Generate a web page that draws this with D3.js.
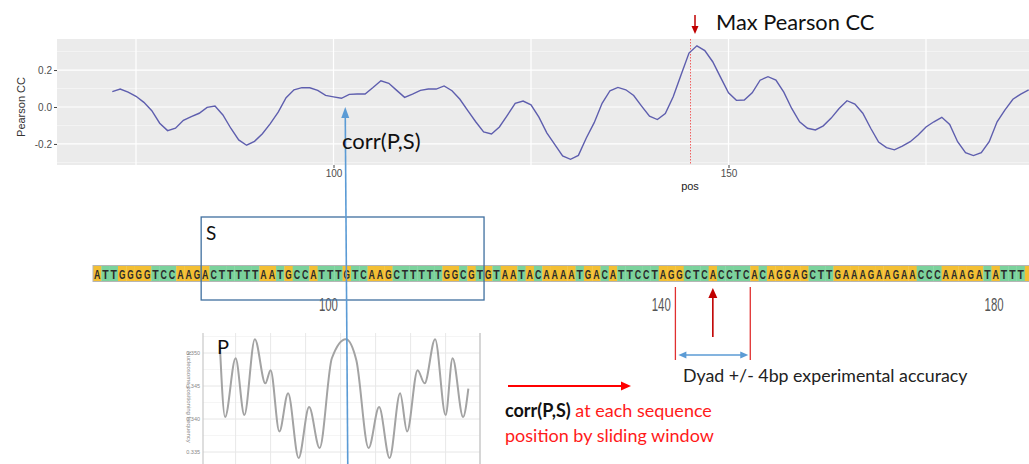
<!DOCTYPE html>
<html><head><meta charset="utf-8">
<script src="https://cdn.jsdelivr.net/npm/d3@7"></script>
<style>body{margin:0;background:#fff;} svg{display:block;}</style>
</head><body>
<svg id="c" width="1029" height="464"></svg>
<script>
// ---------------- DATA ----------------
const pearsonStart = 72; // first sequence position of the correlation track
const pearsonValues = [
  0.083, 0.097, 0.080, 0.058, 0.025, -0.020, -0.088, -0.128, -0.115, -0.072,
 -0.052, -0.034, -0.002, 0.005, -0.043, -0.115, -0.178, -0.207, -0.186, -0.145,
 -0.090, -0.028, 0.050, 0.093, 0.105, 0.104, 0.090, 0.063, 0.055, 0.047,
  0.068, 0.070, 0.070, 0.105, 0.142, 0.128, 0.090, 0.052, 0.070, 0.090,
  0.097, 0.097, 0.114, 0.088, 0.042, -0.020, -0.080, -0.135, -0.146, -0.108,
 -0.045, 0.020, 0.032, 0.012, -0.055, -0.140, -0.202, -0.265, -0.283, -0.262,
 -0.168, -0.085, 0.020, 0.088, 0.106, 0.093, 0.062, 0.005, -0.050, -0.068,
 -0.035, 0.055, 0.175, 0.292, 0.331, 0.305, 0.245, 0.160, 0.077, 0.036,
  0.038, 0.077, 0.145, 0.164, 0.146, 0.080, -0.008, -0.080, -0.115, -0.124,
 -0.102, -0.060, -0.008, 0.034, 0.016, -0.034, -0.115, -0.190, -0.220, -0.232,
 -0.212, -0.188, -0.152, -0.108, -0.080, -0.056, -0.095, -0.188, -0.247, -0.263,
 -0.247, -0.188, -0.080, -0.016, 0.042, 0.070, 0.092
];
const topYTicks = [-0.2, 0.0, 0.2];
const topYMinor = [-0.3, -0.1, 0.1, 0.3];
const topXTicks = [100, 150];
const topXGrid = [75, 100, 125, 150, 175];
const maxLinePos = 145;
const dyadPos = 146;
const dyadLeft = 142, dyadRight = 151;

const sequence = "ATTGGGGTCCAAGACTTTTTAATGCCATTTGTCAAGCTTTTTGGCGTGTAATACAAAATGACATTCCTAGGCTCACCTCACAGGAGCTTGAAAGAAGAACCCAAAGATATTTA";
const seqTicks = [100, 140, 180];
const windowStart = 85, windowEnd = 119, windowCenter = 102.5;

// nucleosome profile P
const pPos = [11,14,20,25,31,37,40,45,50,56,62,68,75,83,89,96,102,108,114,118,124,128,134,140,144,150,153];
const pVal = [0.3512,0.3403,0.3492,0.3406,0.3521,0.3454,0.3474,0.3381,0.3439,0.3341,0.3418,0.3356,0.3492,0.3521,
              0.3489,0.3356,0.3418,0.3341,0.3439,0.3381,0.3474,0.3454,0.3521,0.3406,0.3492,0.3403,0.3446];
const pYTicks = [0.335, 0.340, 0.345, 0.350];
const pYMinor = [0.3375, 0.3425, 0.3475, 0.3525];
const pXGrid = [20, 40, 60, 80, 100, 120, 140];

// ---------------- DRAW ----------------
const W = 1029, H = 464;
const svg = d3.select('#c');
const FONT_ANN = "Lato, 'Open Sans', sans-serif";
const FONT_GG = "'Liberation Sans', Arial, sans-serif";

// ---- top ggplot panel ----
const xTop = d3.scaleLinear().domain([65, 192]).range([57, 57 + 127 * 7.9]);
const yTop = d3.scaleLinear().domain([-0.314, 0.368]).range([165, 39]);
const gTop = svg.append('g');
gTop.append('rect').attr('x', 57).attr('y', 39).attr('width', W - 57).attr('height', 126).attr('fill', '#ebebeb');
gTop.selectAll('.hmin').data(topYMinor).join('line')
  .attr('x1', 57).attr('x2', W).attr('y1', d => yTop(d)).attr('y2', d => yTop(d))
  .attr('stroke', '#fafafa').attr('stroke-width', 0.6);
gTop.selectAll('.hmaj').data(topYTicks).join('line')
  .attr('x1', 57).attr('x2', W).attr('y1', d => yTop(d)).attr('y2', d => yTop(d))
  .attr('stroke', '#fff').attr('stroke-width', 1.2);
gTop.selectAll('.vmaj').data(topXGrid).join('line')
  .attr('x1', d => xTop(d)).attr('x2', d => xTop(d)).attr('y1', 39).attr('y2', 165)
  .attr('stroke', '#fff').attr('stroke-width', 1.2);

const yAx = gTop.append('g').attr('transform', 'translate(57,0)')
  .call(d3.axisLeft(yTop).tickValues(topYTicks).tickSize(3).tickPadding(2).tickFormat(d => d.toFixed(1)));
yAx.select('.domain').remove();
yAx.selectAll('line').attr('stroke', '#444');
yAx.selectAll('text').attr('font-family', FONT_GG).attr('font-size', 10).attr('fill', '#4d4d4d');

const xAx = gTop.append('g').attr('transform', 'translate(0,165)')
  .call(d3.axisBottom(xTop).tickValues(topXTicks).tickSize(3).tickPadding(2));
xAx.select('.domain').remove();
xAx.selectAll('line').attr('stroke', '#444');
xAx.selectAll('text').attr('font-family', FONT_GG).attr('font-size', 10).attr('fill', '#4d4d4d');

gTop.append('text').attr('transform', 'translate(25,107) rotate(-90)').attr('text-anchor', 'middle')
  .attr('font-family', FONT_GG).attr('font-size', 11).attr('fill', '#333').text('Pearson CC');
gTop.append('text').attr('x', 690).attr('y', 190).attr('text-anchor', 'middle')
  .attr('font-family', FONT_GG).attr('font-size', 11).attr('fill', '#222').text('pos');

svg.append('clipPath').attr('id', 'clipTop').append('rect').attr('x', 57).attr('y', 39).attr('width', W - 57).attr('height', 126);
gTop.append('line').attr('x1', xTop(maxLinePos) + 1.5).attr('x2', xTop(maxLinePos) + 1.5).attr('y1', 39).attr('y2', 165)
  .attr('stroke', '#f06060').attr('stroke-width', 1).attr('stroke-dasharray', '1.5,1.5');
gTop.append('path').datum(pearsonValues).attr('clip-path', 'url(#clipTop)')
  .attr('d', d3.line().x((d, i) => xTop(pearsonStart + i)).y(d => yTop(d)))
  .attr('fill', 'none').attr('stroke', '#5e5eae').attr('stroke-width', 1.4);

// Max Pearson CC annotation
const ax = xTop(maxLinePos) + 6;
svg.append('line').attr('x1', ax).attr('x2', ax).attr('y1', 15).attr('y2', 27).attr('stroke', '#c00000').attr('stroke-width', 1.5);
svg.append('path').attr('d', `M${ax - 3.5},26 L${ax + 3.5},26 L${ax},34 Z`).attr('fill', '#c00000');
svg.append('text').attr('x', 716).attr('y', 30).attr('font-family', FONT_ANN).attr('font-size', 21.8).attr('fill', '#111').text('Max Pearson CC');

// ---- P profile plot ----
const pX = d3.scaleLinear().domain([0, 160]).range([200.6, 200.6 + 160 * 1.75]);
const pY = d3.scaleLinear().domain([0.335, 0.350]).range([452, 353]);
const gP = svg.append('g');
gP.append('rect').attr('x', 203).attr('y', 333).attr('width', 277).attr('height', 131).attr('fill', '#fff');
gP.selectAll('.pmin').data(pYMinor).join('line')
  .attr('x1', 203).attr('x2', 480).attr('y1', d => pY(d)).attr('y2', d => pY(d)).attr('stroke', '#f0f0f0').attr('stroke-width', 0.7);
gP.selectAll('.pmaj').data(pYTicks).join('line')
  .attr('x1', 203).attr('x2', 480).attr('y1', d => pY(d)).attr('y2', d => pY(d)).attr('stroke', '#e6e6e6').attr('stroke-width', 1);
gP.selectAll('.pv').data(pXGrid).join('line')
  .attr('x1', d => pX(d)).attr('x2', d => pX(d)).attr('y1', 333).attr('y2', 464).attr('stroke', '#e8e8e8').attr('stroke-width', 1);
gP.append('line').attr('x1', 203).attr('x2', 203).attr('y1', 333).attr('y2', 464).attr('stroke', '#c8c8c8').attr('stroke-width', 1.2);
gP.append('line').attr('x1', 480).attr('x2', 480).attr('y1', 333).attr('y2', 464).attr('stroke', '#c8c8c8').attr('stroke-width', 1.5);
gP.selectAll('.pt').data(pYTicks).join('text')
  .attr('x', 200).attr('y', d => pY(d) + 2).attr('text-anchor', 'end')
  .attr('font-family', FONT_GG).attr('font-size', 5.5).attr('fill', '#888').text(d => d.toFixed(3));
gP.append('text').attr('transform', 'translate(187,397) rotate(90)').attr('text-anchor', 'middle')
  .attr('font-family', FONT_GG).attr('font-size', 6).attr('fill', '#888').text('Nucleosome positioning frequency');
gP.append('path').datum(pPos.map((p, i) => [p, pVal[i]]))
  .attr('d', d3.line().curve(d3.curveMonotoneX).x(d => pX(d[0])).y(d => pY(d[1])))
  .attr('fill', 'none').attr('stroke', '#a3a3a3').attr('stroke-width', 2);
gP.append('text').attr('x', 217).attr('y', 354).attr('font-family', FONT_ANN).attr('font-size', 20).attr('fill', '#111').text('P');

// ---- sequence strip ----
const seqLetters = sequence.split('');
const seqX = d3.scaleLinear().domain([pearsonStart, pearsonStart + seqLetters.length]).range([93, 93 + seqLetters.length * 8.32]);
const cw = seqX(pearsonStart + 1) - seqX(pearsonStart);
const color = b => (b === 'A' || b === 'G') ? '#f3bf33' : '#7bd29c';
const gS = svg.append('g');
gS.selectAll('rect.b').data(seqLetters).join('rect')
  .attr('x', (d, i) => seqX(pearsonStart + i)).attr('y', 266).attr('width', cw + 0.3).attr('height', 15)
  .attr('fill', d => color(d));
gS.append('rect').attr('x', 93).attr('y', 265.5).attr('width', W - 93 + 5).attr('height', 16)
  .attr('fill', 'none').attr('stroke', '#b5b5b5').attr('stroke-width', 1);
// the last letter of the strip is only partly visible in the reference; keep those that fit
const visibleLetters = seqLetters.filter((d, i) => seqX(pearsonStart + i + 0.5) + 3.5 <= W);
gS.selectAll('text.b').data(visibleLetters).join('text')
  .attr('x', (d, i) => seqX(pearsonStart + i + 0.5)).attr('y', 278.5).attr('text-anchor', 'middle')
  .attr('font-family', "'Liberation Sans Narrow', 'Liberation Sans', Arial, sans-serif").attr('font-weight', 'bold')
  .attr('font-size', 13).attr('fill', '#2a2a2a')
  .attr('textLength', 6.4).attr('lengthAdjust', 'spacingAndGlyphs').text(d => d);
gS.selectAll('text.t').data(seqTicks).join('text')
  .attr('x', d => seqX(d + 0.3)).attr('y', 311).attr('text-anchor', 'middle')
  .attr('font-family', "'Liberation Sans Narrow', 'Liberation Sans', Arial, sans-serif")
  .attr('font-size', 19).attr('fill', '#555')
  .attr('textLength', 19).attr('lengthAdjust', 'spacingAndGlyphs').text(d => d);

// window S
svg.append('rect').attr('x', seqX(windowStart)).attr('y', 217).attr('width', seqX(windowEnd) - seqX(windowStart)).attr('height', 83)
  .attr('fill', 'none').attr('stroke', '#3f6f9f').attr('stroke-width', 1.3);
svg.append('text').attr('x', 206).attr('y', 240).attr('font-family', FONT_ANN).attr('font-size', 19).attr('fill', '#111').text('S');

// blue vertical arrow from P through S to the correlation track
const bx = seqX(windowCenter);
svg.append('line').attr('x1', bx + 1).attr('x2', bx - 1.5).attr('y1', 464).attr('y2', 116).attr('stroke', '#5b9bd5').attr('stroke-width', 1.6);
svg.append('path').attr('d', `M${bx - 1.5 - 4},118 L${bx - 1.5 + 4},118 L${bx - 1.5},107 Z`).attr('fill', '#5b9bd5');
svg.append('text').attr('x', 342).attr('y', 149).attr('font-family', FONT_ANN).attr('font-size', 22).attr('fill', '#111').text('corr(P,S)');

// dyad lines
[dyadLeft, dyadRight].forEach(p => {
  svg.append('line').attr('x1', seqX(p)).attr('x2', seqX(p)).attr('y1', 287).attr('y2', 360).attr('stroke', '#e03030').attr('stroke-width', 1.3);
});
const dx = seqX(dyadPos + 0.5);
svg.append('line').attr('x1', dx).attr('x2', dx).attr('y1', 337).attr('y2', 296).attr('stroke', '#c00000').attr('stroke-width', 1.6);
svg.append('path').attr('d', `M${dx - 4.5},298 L${dx + 4.5},298 L${dx},288 Z`).attr('fill', '#c00000');
// double arrow
const l = seqX(dyadLeft) + 3, r = seqX(dyadRight) - 2, yy = 355;
svg.append('line').attr('x1', l + 6).attr('x2', r - 6).attr('y1', yy).attr('y2', yy).attr('stroke', '#5b9bd5').attr('stroke-width', 1.5);
svg.append('path').attr('d', `M${l},${yy} L${l + 8},${yy - 3.5} L${l + 8},${yy + 3.5} Z`).attr('fill', '#5b9bd5');
svg.append('path').attr('d', `M${r},${yy} L${r - 8},${yy - 3.5} L${r - 8},${yy + 3.5} Z`).attr('fill', '#5b9bd5');
svg.append('text').attr('x', 683).attr('y', 382).attr('font-family', FONT_ANN).attr('font-size', 17.8).attr('fill', '#222')
  .text('Dyad +/- 4bp experimental accuracy');

// sliding window arrow + caption
svg.append('line').attr('x1', 508).attr('x2', 622).attr('y1', 386).attr('y2', 386).attr('stroke', '#ff0000').attr('stroke-width', 2);
svg.append('path').attr('d', 'M631,386 L621,381.5 L621,390.5 Z').attr('fill', '#ff0000');
const cap = svg.append('text').attr('x', 505).attr('y', 417).attr('font-family', FONT_ANN).attr('font-size', 18);
cap.append('tspan').attr('font-weight', 'bold').attr('fill', '#111').text('corr(P,S)');
cap.append('tspan').attr('fill', '#ff1a1a').text(' at each sequence');
svg.append('text').attr('x', 505).attr('y', 442).attr('font-family', FONT_ANN).attr('font-size', 18).attr('fill', '#ff1a1a')
  .text('position by sliding window');
</script>
</body></html>
